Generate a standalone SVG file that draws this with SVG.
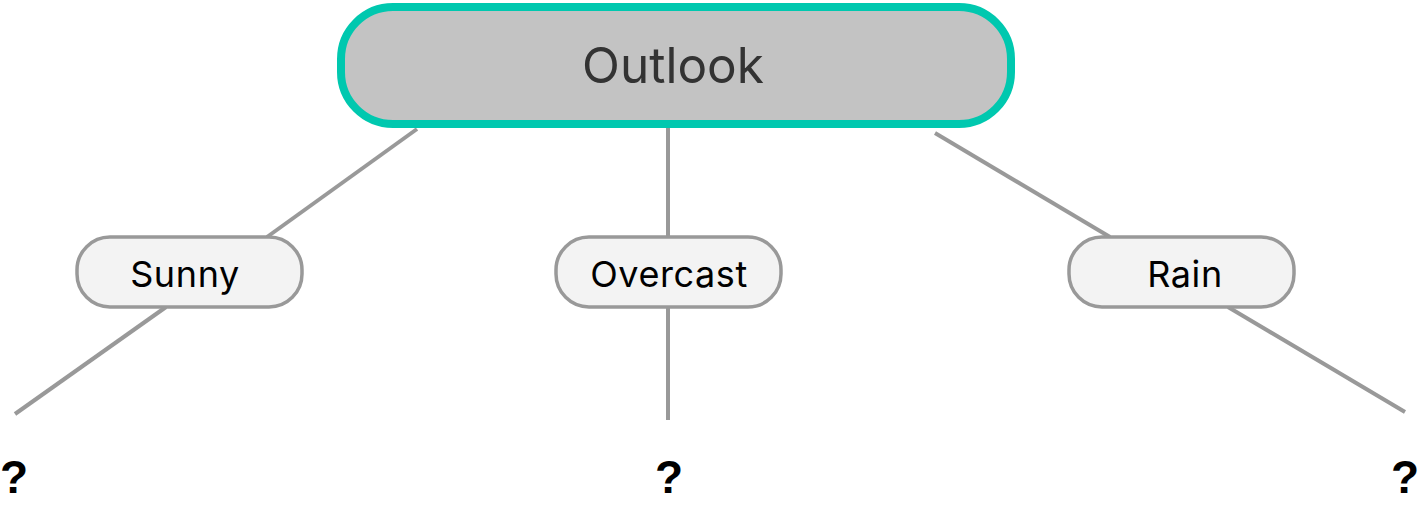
<svg xmlns="http://www.w3.org/2000/svg" width="1420" height="510" viewBox="0 0 1420 510">
<style>
.edge{stroke:#999;stroke-width:4;fill:none}
.leaf{fill:#f3f3f3;stroke:#999;stroke-width:3.5}
.lt{font-family:Inter,"Liberation Sans",sans-serif;font-size:36px;letter-spacing:0.6px;fill:#000;text-anchor:middle}
.q{font-family:"Liberation Sans",Arial,sans-serif;font-weight:bold;font-size:46px;fill:#000;text-anchor:middle}
</style>
<rect width="1420" height="510" fill="#fff"/>
<g id="connectors">
<line class="edge" x1="417" y1="129" x2="267" y2="237"/>
<line class="edge" x1="668" y1="128" x2="668" y2="237"/>
<line class="edge" x1="935" y1="133" x2="1110" y2="237"/>
<line class="edge" x1="166" y1="307" x2="15" y2="414"/>
<line class="edge" x1="668" y1="307" x2="668" y2="420"/>
<line class="edge" x1="1228" y1="307" x2="1405" y2="412"/>
</g>
<g id="outlook">
<rect x="341" y="7" width="670" height="117" rx="52" fill="#c3c3c3" stroke="#00c8af" stroke-width="8"/>
<text x="673" y="83" font-family="Inter,'Liberation Sans',sans-serif" font-size="49.5" fill="#333" text-anchor="middle">Outlook</text>
</g>
<g id="sunny">
<rect class="leaf" x="77" y="237" width="225" height="70" rx="33"/>
<text class="lt" x="185" y="287">Sunny</text>
</g>
<g id="overcast">
<rect class="leaf" x="556" y="237" width="225" height="70" rx="33"/>
<text class="lt" x="669" y="287">Overcast</text>
</g>
<g id="rain">
<rect class="leaf" x="1069" y="237" width="225" height="70" rx="33"/>
<text class="lt" x="1185" y="287">Rain</text>
</g>
<g id="q1"><text class="q" x="14" y="493">?</text></g>
<g id="q2"><text class="q" x="669" y="493">?</text></g>
<g id="q3"><text class="q" x="1405" y="493">?</text></g>
</svg>
